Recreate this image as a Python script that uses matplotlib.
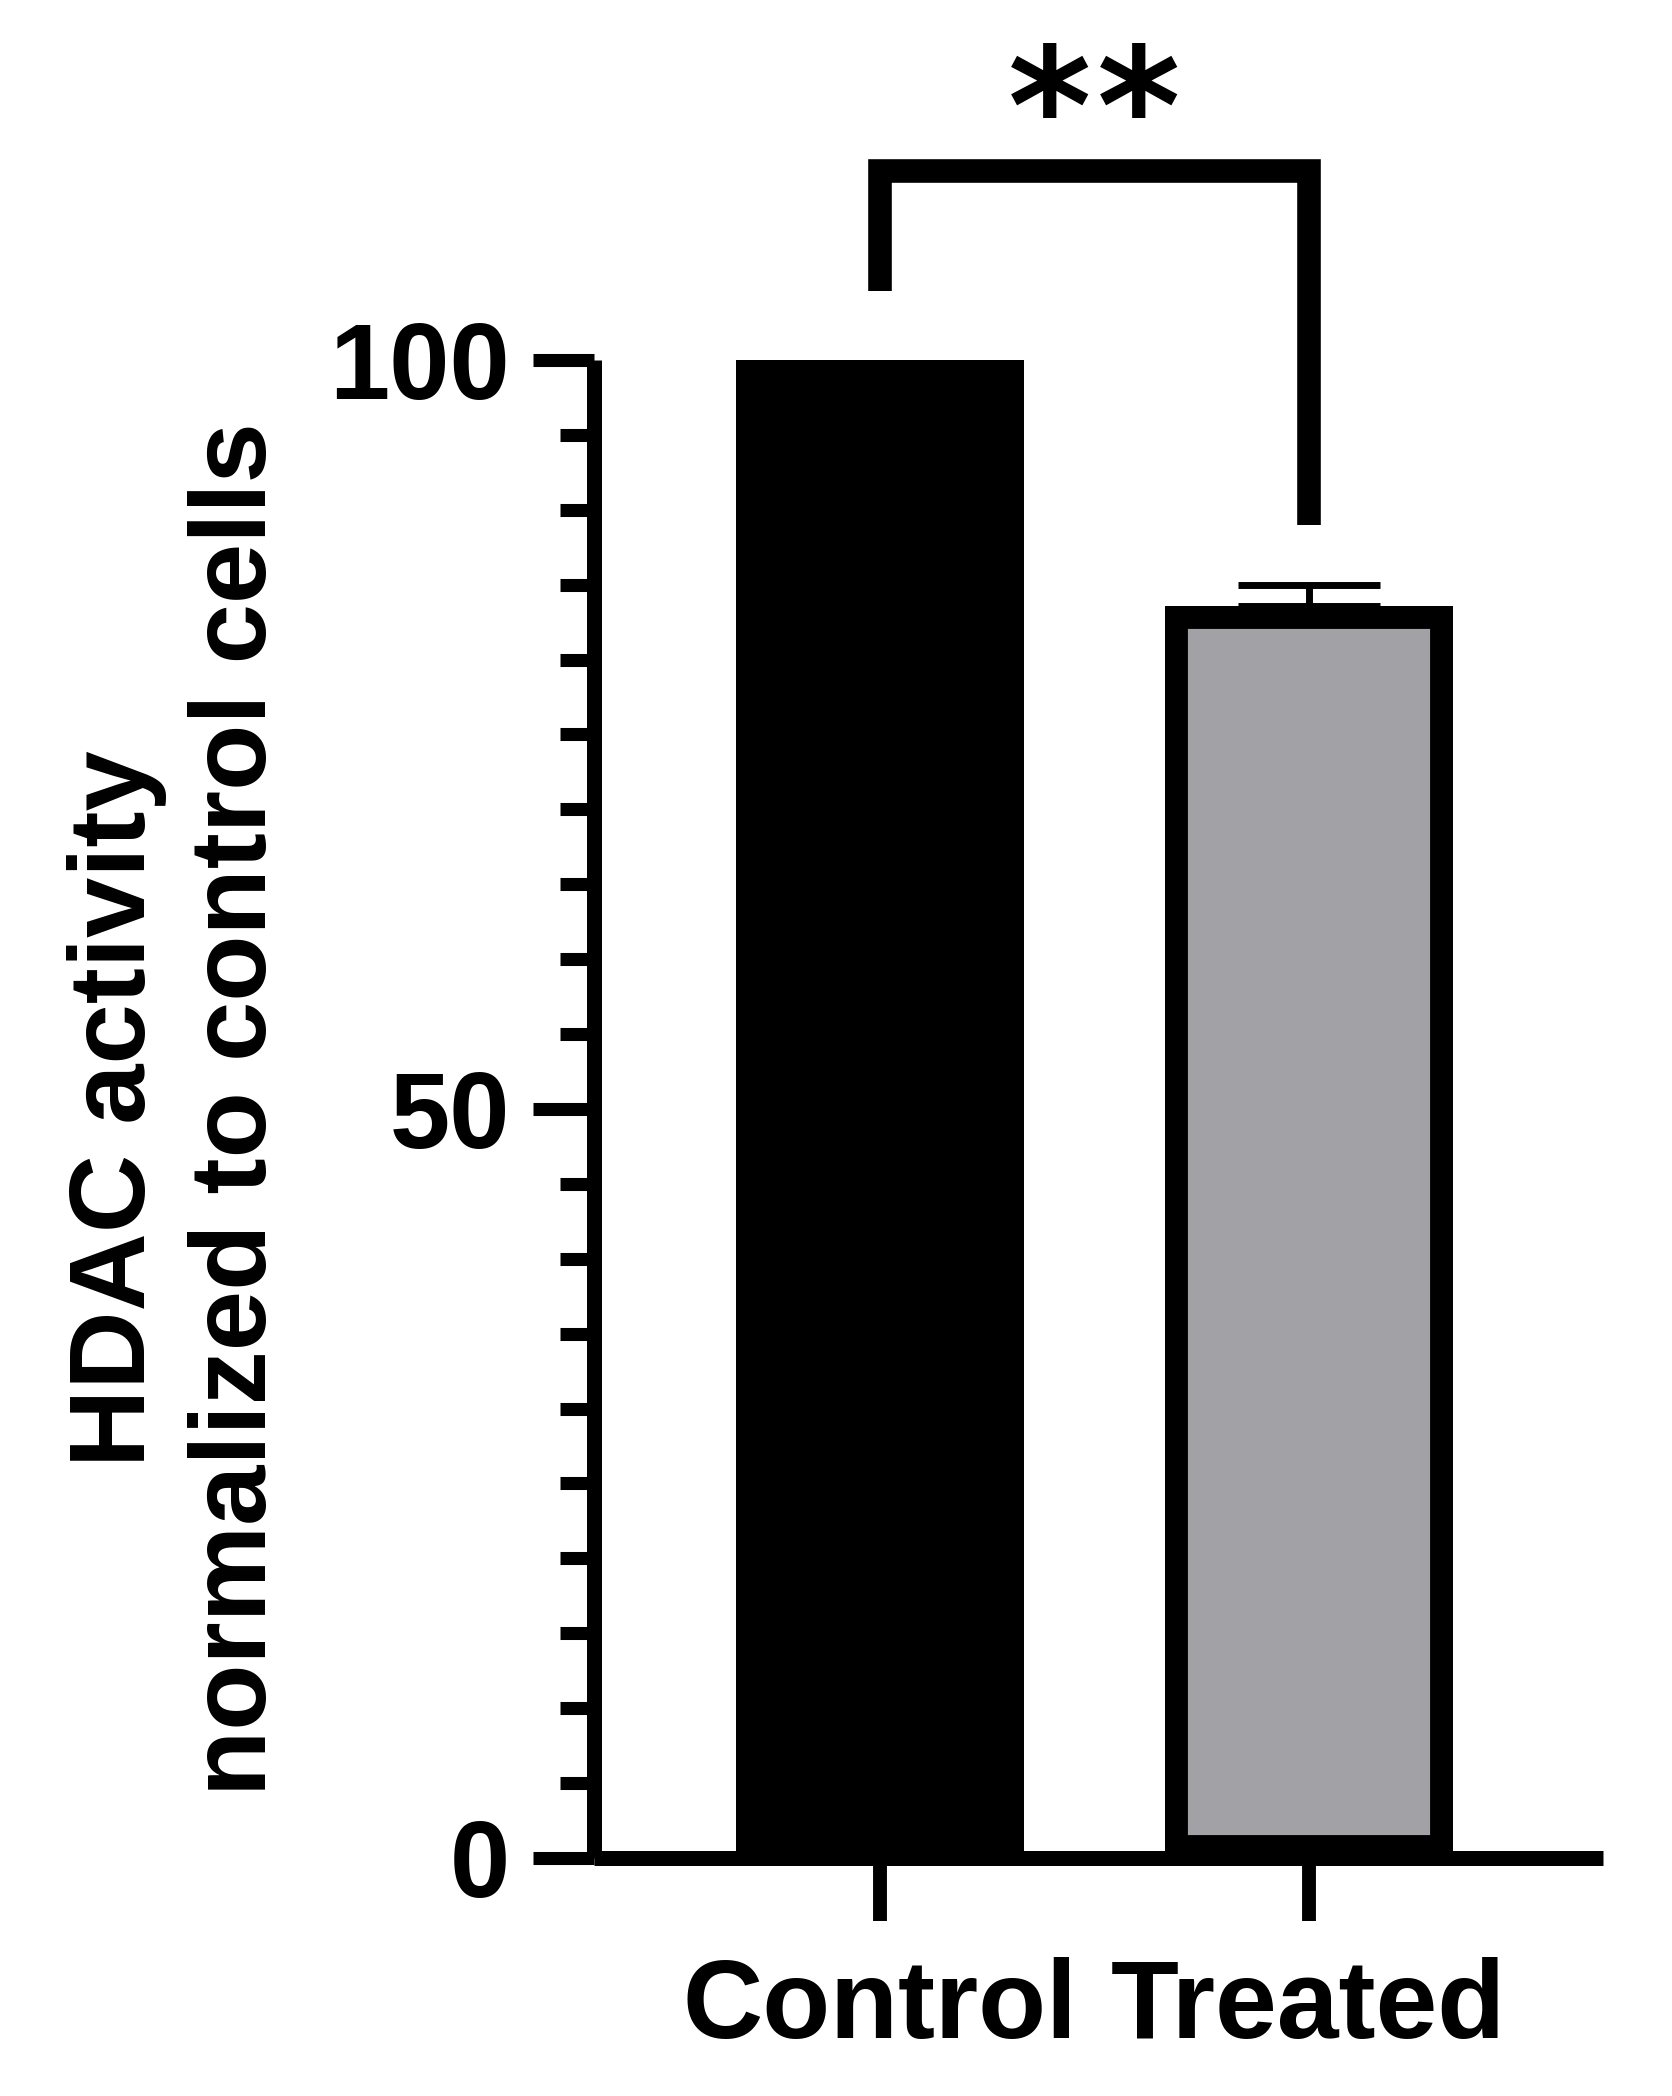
import numpy as np
import matplotlib
matplotlib.use("Agg")
import matplotlib.pyplot as plt
from matplotlib.ticker import MultipleLocator

plt.rcParams['font.family'] = ['Liberation Sans', 'DejaVu Sans']
plt.rcParams['font.weight'] = 'bold'

# data
groups = ["Control", "Treated"]
activity = [100.0, 83.6]
sem = [0.0, 1.4]
colors = ["black", "#a2a1a6"]
sig_label = "*"
n_stars = 2

fig = plt.figure(figsize=(16.72, 20.96), dpi=100)
ax = fig.add_axes([0.3553, 0.11355, 0.6035, 0.7147])

x = np.arange(len(groups))
bars = ax.bar(x, activity, width=0.672, color=colors, edgecolor="black",
              linewidth=33, zorder=2)
# keep border inside the bar (GraphPad style)
for b in bars:
    b.set_clip_path(b)

# upward-only error bar on treated
ax.errorbar(x[1:], activity[1:], yerr=[[0], sem[1:]], fmt="none",
            ecolor="black", elinewidth=5, capsize=51, capthick=5, zorder=3)

ax.set_xlim(-0.667, 1.687)
ax.set_ylim(0, 100)
ax.yaxis.set_major_locator(MultipleLocator(50))
ax.yaxis.set_minor_locator(MultipleLocator(5))
ax.set_xticks(x)
ax.set_xticklabels(groups, fontsize=80, fontweight="bold")
for lab in ax.get_yticklabels():
    lab.set_fontsize(78)
    lab.set_fontweight("bold")

for s in ["top", "right"]:
    ax.spines[s].set_visible(False)
for s in ["left", "bottom"]:
    ax.spines[s].set_linewidth(10.8)
    ax.spines[s].set_capstyle("butt")

ax.tick_params(axis="y", which="major", length=44, width=9.4, pad=16.5,
               labelsize=78)
ax.tick_params(axis="y", which="minor", length=24.5, width=9.4)
ax.tick_params(axis="x", which="major", length=45, width=10, pad=26)

ax.set_ylabel("HDAC activity\nnormalized to control cells", fontsize=78,
              fontweight="bold", linespacing=1.27, labelpad=30)

# significance bracket
left_y = activity[0] + 4.6
right_y = activity[1] + sem[1] + 4.0
top_y = 112.6
ax.plot([x[0], x[0], x[1], x[1]], [left_y, top_y, top_y, right_y],
        color="black", lw=17, clip_on=False, solid_joinstyle="miter",
        solid_capstyle="butt")
mid = (x[0] + x[1]) / 2
for k in range(n_stars):
    dx = (k - (n_stars - 1) / 2) * 64
    ax.annotate(sig_label, xy=(mid, top_y + 3.5), xytext=(dx, 0),
                textcoords="offset points", ha="center", va="center",
                fontsize=115, fontweight="bold", family="DejaVu Sans",
                annotation_clip=False)

fig.savefig("out.png", dpi=100)
